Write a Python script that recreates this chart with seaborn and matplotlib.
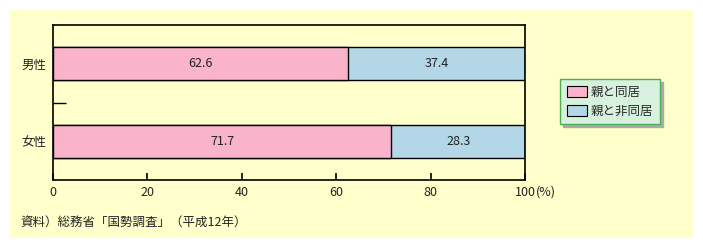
import matplotlib
matplotlib.use("Agg")
import matplotlib.pyplot as plt
from matplotlib.patches import Rectangle, Patch
import seaborn as sns
import pandas as pd

categories = ["男性", "女性"]
with_parents = [62.6, 71.7]
without_parents = [37.4, 28.3]
series_names = ["親と同居", "親と非同居"]
xticks = [0, 20, 40, 60, 80, 100]
xtick_labels = ["0", "20", "40", "60", "80", "100"]
source = "資料）総務省「国勢調査」（平成12年）"

PINK = "#F9B4CC"
BLUE = "#B4D7E8"
PANEL = "#FFFFCC"

sns.set_style("white", {"xtick.bottom": True, "ytick.left": True,
                        "xtick.direction": "in", "ytick.direction": "in",
                        "xtick.color": "black", "ytick.color": "black"})
plt.rcParams["font.family"] = ["Noto Sans CJK JP", "DejaVu Sans"]

df = pd.DataFrame({
    "cat": categories,
    "a": with_parents,
    "b": without_parents,
})
df["total"] = df["a"] + df["b"]

fig = plt.figure(figsize=(7.03, 2.48), dpi=100)
fig.patch.set_facecolor("white")
panel = Rectangle((10 / 703, 1 - 238 / 248), 683 / 703, 228 / 248,
                  transform=fig.transFigure, facecolor=PANEL,
                  edgecolor="none", zorder=-10)
fig.add_artist(panel)

ax = fig.add_axes([53 / 703, 1 - 180 / 248, 472 / 703, 155 / 248])
ax.set_zorder(1)
ax.set_facecolor(PANEL)

sns.barplot(data=df, y="cat", x="total", color=BLUE, width=0.42, orient="h",
            edgecolor="black", linewidth=1.0, saturation=1, ax=ax)
sns.barplot(data=df, y="cat", x="a", color=PINK, width=0.42, orient="h",
            edgecolor="black", linewidth=1.0, saturation=1, ax=ax)

for i, (a, b) in enumerate(zip(with_parents, without_parents)):
    ax.text(a / 2, i, f"{a:.1f}", ha="center", va="center", fontsize=9, color="#222222")
    ax.text(a + b / 2, i, f"{b:.1f}", ha="center", va="center", fontsize=9, color="#222222")

ax.set_xlim(0, 100)
ax.set_ylim(1.5, -0.5)
ax.set_xlabel("")
ax.set_ylabel("")
ax.set_xticks(xticks)
ax.set_xticklabels(xtick_labels, fontsize=9, color="#222222")
ax.set_yticks([0, 1])
ax.set_yticklabels(categories, fontsize=9, color="#222222")
ax.set_yticks([0.5], minor=True)
ax.tick_params(axis="x", which="major", bottom=True, top=False, direction="in",
               length=5, width=1.2, color="black", pad=4)
ax.tick_params(axis="y", which="major", left=True, length=0, pad=5)
ax.tick_params(axis="y", which="minor", left=True, direction="in", length=9.5,
               width=1, color="black")
for t in ax.xaxis.get_major_ticks():
    t.tick1line.set_visible(True)
    t.tick1line.set_color("black")
    t.tick1line.set_markersize(5)
    t.tick1line.set_markeredgewidth(1.2)
    t.tick1line.set_zorder(5)
ax.annotate("(%)", xy=(100, 0), xycoords=("data", "axes fraction"),
            xytext=(7.5, -4), textcoords="offset points", ha="left", va="top",
            fontsize=9, color="#222222")
for s in ax.spines.values():
    s.set_color("black")
    s.set_linewidth(1.2)
    s.set_visible(True)

handles = [Patch(facecolor=PINK, edgecolor="black", linewidth=0.8),
           Patch(facecolor=BLUE, edgecolor="black", linewidth=0.8)]
leg = fig.legend(handles, series_names, loc="upper left",
                 bbox_to_anchor=(560 / 703, 1 - 79 / 248), fontsize=9,
                 frameon=True, fancybox=False, shadow={"color": "#AAAAAA", "alpha": 1},
                 handlelength=1.6, handleheight=1.0, handletextpad=0.3,
                 borderpad=0.55, labelspacing=0.45, borderaxespad=0)
leg.get_frame().set_facecolor("#D8F0DE")
leg.get_frame().set_edgecolor("#4CAF50")
leg.get_frame().set_linewidth(1.0)
leg.get_frame().set_alpha(1)

fig.text(20 / 703, 1 - 222 / 248, source, ha="left", va="center", fontsize=9, color="#222222")

fig.savefig("out.png", dpi=100, facecolor="white")
